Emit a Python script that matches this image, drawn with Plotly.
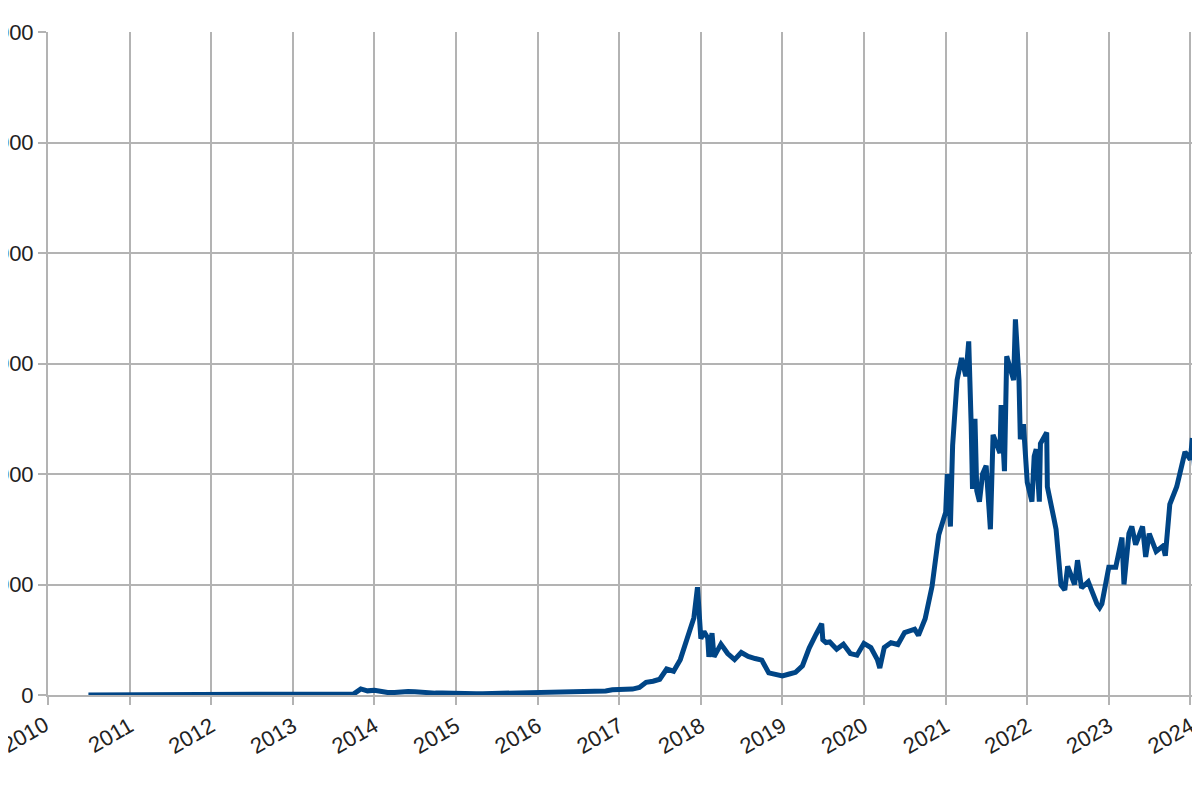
import plotly.graph_objects as go

# monthly prices (USD), with a few extra points for the peaks
dates = []
prices = []

monthly = {
    2010: [0.07, 0.07, 0.06, 0.2, 0.3, 0.3],
    2011: [0.5, 1, 0.9, 3.5, 9, 17, 14, 9, 5, 3, 3, 4.5],
    2012: [6, 5, 5, 5, 5, 6.5, 9, 10, 12, 11, 12, 13],
    2013: [20, 33, 90, 140, 130, 100, 100, 120, 130, 200, 1100, 750],
    2014: [850, 600, 450, 450, 600, 640, 590, 480, 390, 340, 380, 320],
    2015: [220, 250, 250, 235, 230, 260, 285, 230, 235, 310, 380, 430],
    2016: [370, 435, 415, 450, 530, 670, 625, 575, 610, 700, 740, 960],
    2017: [970, 1180, 1070, 1350, 2300, 2500, 2850, 4700, 4300, 6400, 10000, 14000],
    2018: [10200, 10300, 6900, 9200, 7500, 6400, 7700, 7000, 6600, 6300, 4000, 3700],
    2019: [3450, 3800, 4100, 5300, 8500, 11000, 10000, 9600, 8300, 9200, 7500, 7200],
    2020: [9350, 8600, 6400, 8600, 9450, 9140, 11300, 11650, 10800, 13800, 19700, 29000],
    2021: [33100, 45200, 58900, 57700, 37300, 35000, 41500, 47100, 43800, 61300, 57000, 46300],
    2022: [38500, 43200, 45500, 37700, 31800, 19900, 23300, 20000, 19400, 20500, 17200, 16500],
    2023: [23100, 23100, 28500, 29200, 27200, 30500, 29200, 26000, 27000, 34500, 37700, 42300],
    2024: [42600],
}
for year, vals in monthly.items():
    start = 13 - len(vals) if year == 2010 else 1
    for i, v in enumerate(vals):
        dates.append(f"{year}-{start + i:02d}-01")
        prices.append(v)

extra_dates = ["2017-12-17", "2017-12-28", "2018-01-15", "2018-02-06", "2018-02-20",
               "2019-06-26", "2019-07-15", "2020-03-12", "2020-08-15",
               "2021-01-08", "2021-01-22", "2021-02-21", "2021-03-13", "2021-04-14",
               "2021-04-25", "2021-05-12", "2021-05-20", "2021-06-15", "2021-07-20",
               "2021-09-06", "2021-09-21", "2021-11-09", "2021-11-25", "2021-12-15",
               "2022-01-22", "2022-02-10", "2022-02-24", "2022-03-29", "2022-05-10",
               "2022-06-18", "2022-08-14", "2022-11-09", "2022-11-21",
               "2023-03-10", "2023-04-14", "2023-06-15", "2023-09-11",
               "2023-12-08", "2024-01-10", "2024-01-23", "2024-02-10", "2024-02-15",
               "2024-02-28", "2024-03-10"]
extra_prices = [19500, 14500, 11500, 6900, 11200,
                12900, 9500, 4900, 11900,
                40000, 30500, 57000, 61000, 64000,
                49000, 50000, 37000, 40000, 30000,
                52500, 40500, 68000, 57000, 49000,
                35000, 44500, 35000, 47500, 30000,
                19000, 24400, 16500, 15800,
                20000, 30500, 25000, 25200,
                44000, 46500, 39500, 47000, 52000,
                61000, 69000]
dates += extra_dates
prices += extra_prices
pairs = sorted(zip(dates, prices))
dates = [d for d, _ in pairs]
prices = [p for _, p in pairs]

fig = go.Figure(go.Scatter(x=dates, y=prices, mode="lines",
                           line=dict(color="#004586", width=5)))

fig.update_layout(
    width=1200, height=800,
    margin=dict(l=40, r=0, t=24, b=113),
    plot_bgcolor="white", paper_bgcolor="white",
    font=dict(family="Liberation Sans, Arial", size=22, color="#222"),
    showlegend=False,
)
# first year label sits at the very edge; plotly drops it, so add it by hand
fig.add_annotation(x="2010-01-01", y=0, yref="paper", text="2010",
                   showarrow=False, textangle=-30, xanchor="right",
                   yanchor="top", xshift=8, yshift=-14,
                   font=dict(size=22, color="#222"))
fig.update_xaxes(
    range=["2010-01-01", "2024-03-20"], dtick="M12", tickformat="%Y",
    tick0="2010-01-01", tickangle=-30, showgrid=True, gridcolor="#b3b3b3",
    gridwidth=2, ticks="outside", ticklen=8, tickcolor="#b3b3b3", tickwidth=2,
    showline=True, linecolor="#b3b3b3", linewidth=2, zeroline=False,
    automargin=False,
)
fig.update_yaxes(
    range=[0, 120000], dtick=20000, tickformat="d", showgrid=True,
    gridcolor="#b3b3b3", gridwidth=2, ticks="outside", ticklen=8,
    tickcolor="#b3b3b3", tickwidth=2, showline=True, linecolor="#b3b3b3",
    linewidth=2, zeroline=False, automargin=False,
)

fig.write_html("out.html")
